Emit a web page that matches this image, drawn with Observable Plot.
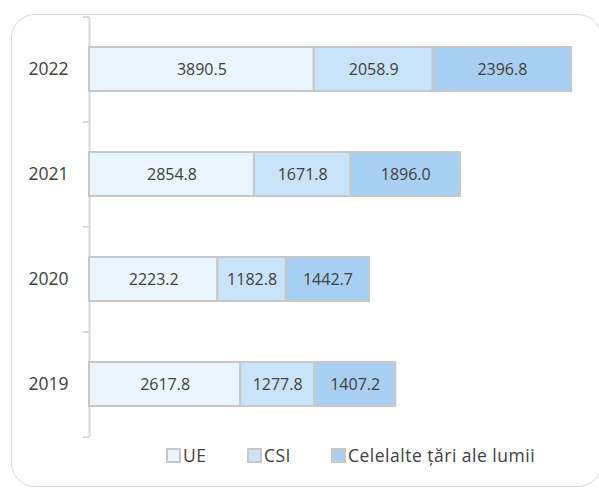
<!DOCTYPE html>
<html>
<head>
<meta charset="utf-8">
<script src="https://cdn.jsdelivr.net/npm/d3@7"></script>
<script src="https://cdn.jsdelivr.net/npm/@observablehq/plot@0.6"></script>
<style>
  html, body { margin: 0; padding: 0; background: #fff; }
  body { width: 599px; height: 490px; position: relative; overflow: hidden; font-family: "Open Sans", sans-serif; }
  #frame { position: absolute; left: 11px; top: 14px; width: 591px; height: 473px; border: 1.5px solid #D9D9D9; border-radius: 24px; box-sizing: border-box; }
  #chart { position: absolute; left: 0; top: 0; }
  #legend { position: absolute; top: 443px; left: 0; width: 599px; height: 24px; font-size: 17.5px; color: #404040; }
  .item { position: absolute; top: 0; height: 24px; display: flex; align-items: center; white-space: nowrap; letter-spacing: 0.5px; }
  .sw { width: 15px; height: 15px; border: 2px solid #C8C8C8; box-sizing: border-box; margin-right: 2px; }
</style>
</head>
<body>
<div id="frame"></div>
<div id="chart"></div>
<div id="legend"></div>
<script>
const years = ["2022", "2021", "2020", "2019"];
const series = ["UE", "CSI", "Celelalte țări ale lumii"];
const colors = ["#EAF6FE", "#C9E3FA", "#A9CFF2"];
const ueValues = [3890.5, 2854.8, 2223.2, 2617.8];
const csiValues = [2058.9, 1671.8, 1182.8, 1277.8];
const otherValues = [2396.8, 1896.0, 1442.7, 1407.2];

const valuesBySeries = [ueValues, csiValues, otherValues];
const data = [];
years.forEach((y, i) => {
  series.forEach((s, j) => data.push({year: y, series: s, value: valuesBySeries[j][i]}));
});

const pxPerUnit = (599 - 19 - 89) / 8500;
const tickLen = 6 / pxPerUnit;
const step = 105;

const plot = Plot.plot({
  width: 599,
  height: 490,
  marginLeft: 89,
  marginRight: 19,
  marginTop: 17,
  marginBottom: 53,
  style: {fontFamily: "Open Sans, sans-serif", background: "transparent"},
  x: {domain: [0, 8500], axis: null},
  y: {domain: years, paddingInner: 0.58, paddingOuter: 0.29, label: null},
  color: {domain: series, range: colors},
  marks: [
    Plot.ruleX([0], {stroke: "#D9D9D9", strokeWidth: 2}),
    Plot.ruleY(years, {y: d => d, x1: -tickLen, x2: 0, dy: -step / 2, stroke: "#D9D9D9", strokeWidth: 2}),
    Plot.ruleY(years.slice(-1), {y: d => d, x1: -tickLen, x2: 0, dy: step / 2, stroke: "#D9D9D9", strokeWidth: 2}),
    Plot.barX(data, Plot.stackX({x: "value", y: "year", fill: "series", stroke: "#C8C8C8", strokeWidth: 2, order: null})),
    Plot.text(data, Plot.stackX({x: "value", y: "year", z: "series", order: null, text: d => d.value.toFixed(1), fill: "#404040", fontSize: 16})),
    Plot.axisY({tickSize: 0, tickPadding: 21, fontSize: 17.5, color: "#404040", label: null})
  ]
});
document.getElementById("chart").appendChild(plot);

const legend = document.getElementById("legend");
const lefts = [166, 247, 331];
series.forEach((s, i) => {
  const item = document.createElement("div");
  item.className = "item";
  item.style.left = lefts[i] + "px";
  const sw = document.createElement("div");
  sw.className = "sw";
  sw.style.background = colors[i];
  const t = document.createElement("span");
  t.textContent = s;
  item.appendChild(sw);
  item.appendChild(t);
  legend.appendChild(item);
});
</script>
</body>
</html>
